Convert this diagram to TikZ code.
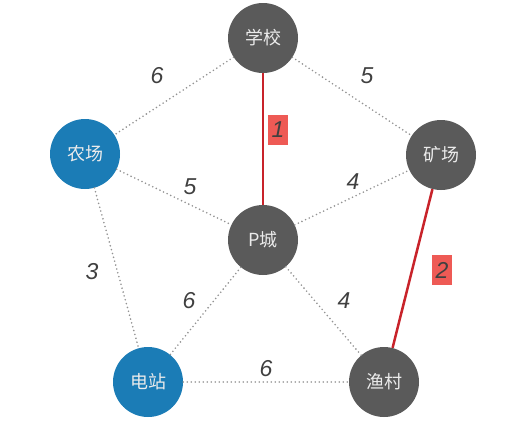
\documentclass[tikz,border=0pt]{standalone}
\usepackage{fontspec}
\setmainfont{Liberation Sans}
\newfontfamily\cjk{Noto Sans CJK SC}
\definecolor{towngray}{HTML}{5A5A5A}
\definecolor{townblue}{HTML}{1B7CB6}
\definecolor{routered}{HTML}{C8232A}
\definecolor{tagred}{HTML}{EE5A55}

\begin{document}
\begin{tikzpicture}[x=1pt, y=-1pt,
  town/.style={circle, fill=towngray, minimum size=70pt, inner sep=0pt, text=white!92!black, font=\cjk\fontsize{18}{18}\selectfont},
  plant/.style={town, fill=townblue},
  road/.style={gray!85, line width=1.8pt, line cap=round, dash pattern=on 0pt off 4pt},
  route/.style={routered, line width=2.5pt},
  cost/.style={font=\itshape\fontsize{23}{23}\selectfont, text=black!75},
  tag/.style={cost, fill=tagred, minimum width=20pt, minimum height=30pt, inner sep=0pt}]
\useasboundingbox (0,0) rectangle (505,424);
\node[town] (school) at (263,38) {学校};
\node[plant] (farm) at (85,154) {农场};
\node[town] (mine) at (441,155) {矿场};
\node[town] (pcity) at (263,240) {P城};
\node[plant] (station) at (148,382) {电站};
\node[town] (village) at (384,382) {渔村};
\draw[road] (school) -- (farm);
\draw[road] (school) -- (mine);
\draw[road] (farm) -- (pcity);
\draw[road] (pcity) -- (mine);
\draw[road] (farm) -- (station);
\draw[road] (pcity) -- (station);
\draw[road] (pcity) -- (village);
\draw[road] (station) -- (village);
\draw[route] (school) -- (pcity);
\draw[route] (mine) -- (village);
\node[cost] (c1) at (157,76) {6};
\node[cost] (c2) at (367,76) {5};
\node[cost] (c3) at (190,187) {5};
\node[cost] (c4) at (353,182) {4};
\node[cost] (c5) at (92,272) {3};
\node[cost] (c6) at (189,301) {6};
\node[cost] (c7) at (344,301) {4};
\node[cost] (c8) at (266,369) {6};
\node[tag] (t1) at (278,130) {1};
\node[tag] (t2) at (442,270) {2};
\end{tikzpicture}
\end{document}
